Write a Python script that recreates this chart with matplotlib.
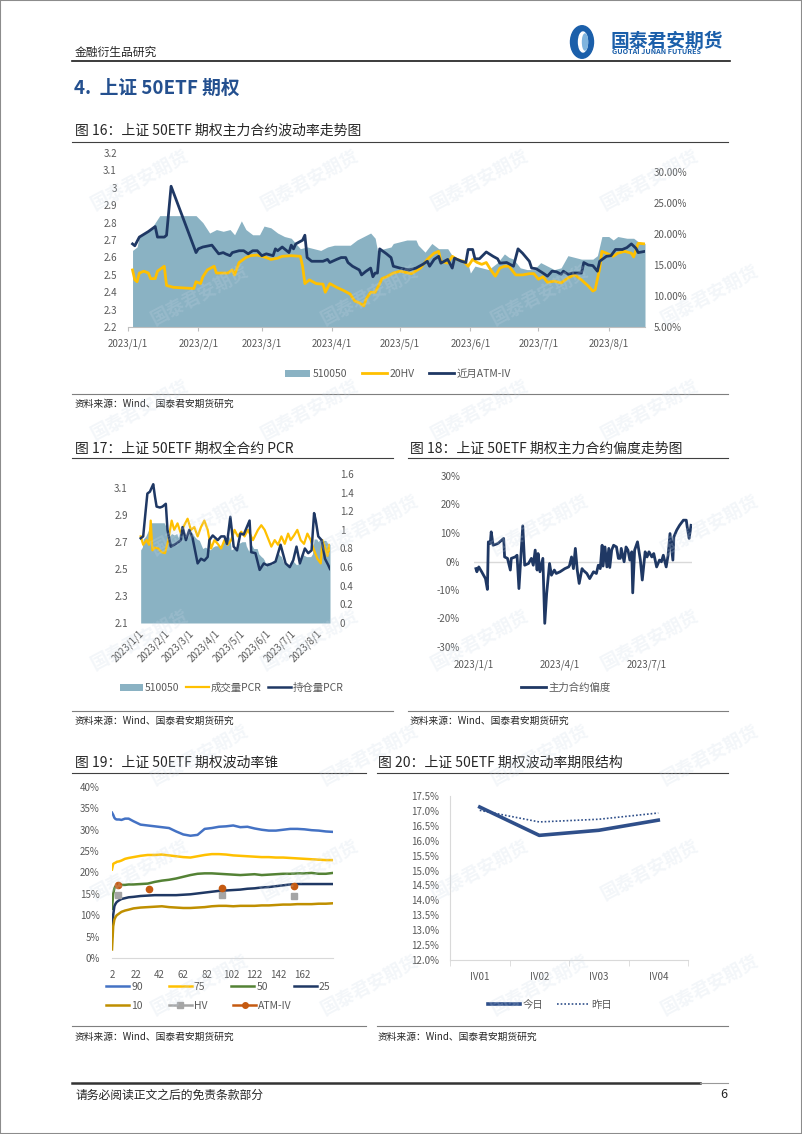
import numpy as np
import matplotlib
matplotlib.use('Agg')
import matplotlib.pyplot as plt
from matplotlib.lines import Line2D
from matplotlib.patches import Rectangle, Ellipse, Circle

plt.rcParams['font.family'] = ['Noto Sans CJK SC', 'DejaVu Sans']
plt.rcParams['axes.unicode_minus'] = False

# ---------------- data ----------------
# fig 16: days since 2023-01-01
etf_days = [2, 4, 5, 8, 11, 14, 17, 30, 33, 36, 39, 42, 45, 47, 50, 52, 55, 58, 60, 63, 66, 69, 72, 76, 79,
            82, 85, 88, 91, 95, 98, 101, 104, 107, 109, 110, 113, 116, 117, 120, 123, 127, 128, 131, 134,
            137, 141, 143, 146, 148, 150, 151, 153, 156, 159, 163, 166, 168, 170, 173, 176, 179, 182, 185,
            188, 191, 194, 197, 200, 203, 205, 207, 209, 212, 214, 216, 220, 223, 225, 228]
etf_close = [2.64, 2.66, 2.72, 2.74, 2.78, 2.84, 2.84, 2.84, 2.80, 2.74, 2.76, 2.75, 2.76, 2.73, 2.81, 2.76,
             2.73, 2.73, 2.78, 2.77, 2.74, 2.72, 2.71, 2.65, 2.66, 2.65, 2.64, 2.66, 2.67, 2.67, 2.67, 2.70,
             2.72, 2.74, 2.71, 2.64, 2.65, 2.66, 2.68, 2.69, 2.70, 2.70, 2.67, 2.63, 2.68, 2.65, 2.65, 2.61,
             2.59, 2.58, 2.56, 2.51, 2.55, 2.54, 2.53, 2.57, 2.62, 2.60, 2.59, 2.54, 2.53, 2.53, 2.57, 2.55,
             2.53, 2.54, 2.61, 2.60, 2.59, 2.59, 2.59, 2.61, 2.72, 2.72, 2.70, 2.72, 2.71, 2.71, 2.69, 2.68]

hv_days = [2, 3, 4, 5, 7, 9, 10, 12, 13, 16, 17, 20, 29, 30, 32, 33, 35, 38, 39, 42, 44, 46, 47, 49, 52, 54,
           57, 59, 61, 63, 66, 68, 72, 76, 77, 78, 80, 83, 86, 87, 89, 92, 95, 98, 100, 102, 104, 105, 107,
           109, 111, 112, 114, 117, 120, 125, 129, 132, 135, 137, 138, 141, 143, 145, 148, 150, 152, 154,
           156, 158, 160, 162, 164, 166, 168, 171, 174, 177, 179, 181, 183, 185, 188, 191, 194, 197, 200,
           203, 205, 206, 208, 209, 211, 214, 216, 219, 222, 223, 225, 228]
hv20 = [14.2, 12.6, 12.3, 13.7, 14.0, 13.7, 12.8, 12.8, 14.0, 14.8, 11.7, 11.4, 11.2, 12.3, 12.0, 13.1, 14.2,
        14.8, 13.7, 13.7, 13.7, 14.2, 13.4, 15.4, 16.2, 16.5, 16.6, 16.4, 16.2, 15.9, 16.1, 16.4, 16.5, 16.4,
        14.8, 12.0, 12.6, 12.0, 11.9, 10.6, 12.0, 11.4, 10.9, 10.3, 9.2, 8.9, 8.4, 9.5, 10.6, 10.6, 12.0,
        12.8, 13.1, 13.7, 14.0, 13.6, 14.5, 15.9, 16.9, 17.2, 15.6, 15.3, 16.4, 15.9, 15.6, 14.8, 15.9, 15.4,
        15.1, 15.4, 14.2, 13.2, 14.5, 14.8, 14.8, 13.4, 13.4, 13.6, 13.6, 12.7, 13.1, 12.2, 12.4, 12.1, 12.9,
        13.4, 12.6, 11.6, 10.8, 11.0, 14.4, 17.2, 16.9, 16.4, 16.9, 17.2, 16.9, 16.3, 18.5, 18.4]

iv_days = [2, 3, 5, 9, 12, 13, 16, 17, 19, 30, 31, 33, 37, 40, 42, 43, 45, 46, 49, 51, 53, 55, 57, 59, 61,
           64, 65, 66, 68, 71, 72, 73, 74, 77, 78, 79, 81, 86, 88, 89, 92, 94, 96, 97, 99, 102, 103, 105,
           107, 108, 109, 110, 111, 114, 116, 117, 120, 124, 127, 130, 132, 133, 135, 137, 138, 141, 143,
           144, 147, 149, 150, 152, 153, 155, 158, 161, 163, 164, 167, 170, 172, 174, 177, 178, 180, 183,
           185, 187, 189, 191, 192, 194, 196, 200, 201, 203, 205, 207, 208, 211, 213, 215, 218, 220, 222,
           224, 225, 228]
atm_iv = [18.4, 18.1, 19.5, 20.4, 21.2, 19.5, 19.5, 19.8, 27.7, 17.0, 17.6, 17.9, 18.2, 16.8, 17.0, 16.8,
          16.5, 17.0, 17.3, 17.3, 16.8, 17.3, 17.3, 16.5, 16.8, 16.5, 17.6, 17.3, 17.9, 17.0, 18.2, 17.6,
          18.4, 19.0, 19.8, 16.2, 15.6, 15.6, 15.9, 15.4, 15.9, 16.2, 16.2, 15.4, 14.8, 14.2, 13.4, 14.0,
          14.5, 13.1, 13.7, 13.7, 17.6, 16.8, 16.2, 14.8, 14.5, 14.2, 14.5, 15.1, 15.6, 14.8, 15.9, 16.4,
          15.3, 15.9, 14.5, 16.1, 15.6, 15.4, 17.5, 17.5, 16.0, 16.0, 17.1, 16.4, 16.0, 15.3, 15.4, 14.8,
          17.6, 16.9, 15.6, 14.5, 14.4, 13.7, 13.2, 14.0, 13.9, 13.5, 14.0, 13.5, 13.7, 13.7, 15.4, 15.0,
          14.9, 14.0, 15.6, 16.4, 16.5, 17.5, 17.5, 17.8, 18.4, 17.7, 17.0, 17.2]

# fig 17: PCR
oi_days = [2, 5, 8, 10, 13, 15, 17, 19, 21, 25, 28, 32, 34, 38, 44, 50, 52, 56, 60, 64, 70, 74, 78, 82, 84,
           88, 94, 98, 102, 105, 109, 113, 117, 121, 125, 132, 134, 139, 144, 149, 153, 159, 163, 169, 175,
           180, 184, 188, 192, 198, 202, 206, 209, 211, 214, 218, 222, 226, 228]
oi_pcr = [0.91, 0.93, 1.21, 1.39, 1.41, 1.45, 1.49, 1.36, 1.25, 1.24, 1.25, 1.28, 1.00, 0.82, 0.85, 0.89,
          1.03, 0.89, 1.00, 0.91, 0.64, 0.69, 0.67, 0.71, 0.89, 0.94, 0.89, 0.93, 0.93, 0.85, 1.14, 0.82,
          0.78, 0.96, 0.95, 1.10, 0.76, 0.75, 0.57, 0.64, 0.62, 0.64, 0.66, 0.84, 0.64, 0.60, 0.67, 0.82,
          0.64, 0.80, 0.75, 0.78, 1.18, 1.10, 0.93, 0.89, 0.69, 0.62, 0.58]
vol_days = [2, 5, 9, 12, 14, 16, 19, 23, 27, 31, 35, 39, 42, 46, 50, 54, 58, 62, 66, 70, 74, 78, 82, 86, 90,
            94, 98, 102, 106, 110, 114, 118, 122, 126, 130, 136, 142, 146, 150, 154, 158, 162, 166, 170,
            174, 178, 181, 185, 189, 193, 197, 201, 205, 209, 213, 217, 219, 223, 225, 227, 228]
vol_pcr = [0.93, 0.84, 0.89, 0.84, 1.10, 0.78, 0.81, 0.80, 0.76, 0.75, 0.89, 1.10, 1.00, 1.07, 0.96, 1.05,
           1.12, 1.00, 1.03, 0.93, 1.03, 1.10, 1.00, 0.80, 0.89, 0.85, 0.80, 0.89, 0.84, 0.89, 1.00, 0.93,
           0.98, 0.93, 1.00, 0.89, 1.00, 1.05, 1.00, 0.91, 0.82, 0.89, 0.84, 0.93, 0.85, 0.96, 0.89, 0.94,
           1.00, 0.89, 0.85, 0.96, 0.89, 0.78, 0.69, 0.64, 0.89, 0.78, 0.72, 0.84, 0.78]

# fig 18: skew (%)
skew_days = [2, 3, 5, 8, 12, 14, 15, 17, 18, 20, 25, 31, 32, 35, 38, 39, 43, 45, 47, 51, 53, 57, 60, 62, 64,
             66, 67, 69, 72, 74, 76, 79, 81, 84, 86, 90, 95, 99, 100, 102, 104, 106, 108, 110, 113, 114, 118,
             121, 125, 128, 130, 132, 134, 135, 137, 139, 141, 142, 144, 146, 149, 151, 153, 154, 157, 159,
             161, 163, 165, 166, 168, 171, 174, 176, 179, 181, 183, 186, 188, 191, 194, 196, 198, 201, 203,
             205, 208, 209, 212, 215, 219, 222, 223, 225, 227]
skew = [-2.5, -3.6, -1.9, -3.6, -6.0, -9.8, 6.9, 6.3, 10.4, 5.7, 6.3, 8.1, 1.6, 1.1, -3.0, 1.1, 1.6, 2.2,
        -9.5, 12.5, -1.3, -0.7, 1.1, -1.3, 4.0, -3.0, 2.8, -3.6, 1.1, -21.7, -11.2, -0.7, -4.8, -3.0, -4.2,
        -3.6, -2.5, -1.9, -1.3, 1.6, -2.5, 4.6, -3.0, -7.7, -2.5, -3.0, -4.2, -6.0, -3.6, -4.2, -1.3, -2.5,
        5.7, -1.6, 5.1, -1.9, 4.6, -2.1, 4.0, 5.7, 5.1, 1.1, 1.1, 4.6, -0.1, 5.1, 4.0, 0.5, 3.4, -11.0, 4.0,
        6.9, 0.5, -6.5, 3.4, 1.6, 3.4, 1.6, 2.8, -1.9, 0.5, -0.1, 2.2, -1.9, 2.2, 9.8, 0.5, 8.6, 11.0, 12.7,
        14.5, 14.5, 12.1, 8.1, 12.7]

# fig 19: volatility cone (%), x = days to expiry
cone_x = [2, 3, 4, 5, 6, 8, 10, 13, 16, 20, 26, 32, 38, 44, 50, 56, 62, 68, 74, 80, 86, 92, 98, 104, 110,
          116, 122, 128, 134, 140, 146, 152, 158, 164, 170, 176, 182, 188]
cone_90 = [34.0, 33.5, 32.8, 32.5, 32.4, 32.4, 32.3, 32.6, 32.6, 32.0, 31.2, 31.0, 30.8, 30.6, 30.4, 29.6,
           28.9, 28.6, 28.8, 30.2, 30.4, 30.7, 30.8, 31.0, 30.6, 30.7, 30.3, 30.0, 29.8, 29.8, 30.0, 30.2,
           30.2, 30.1, 29.9, 29.8, 29.6, 29.5]
cone_75 = [20.7, 22.0, 22.2, 22.3, 22.5, 22.6, 22.8, 23.2, 23.4, 23.6, 23.9, 24.1, 24.1, 24.2, 24.0, 23.8,
           23.6, 23.5, 23.8, 24.1, 24.3, 24.3, 24.2, 24.0, 23.9, 23.8, 23.7, 23.6, 23.6, 23.5, 23.5, 23.4,
           23.3, 23.2, 23.1, 23.0, 22.9, 22.9]
cone_50 = [11.5, 15.0, 16.3, 16.8, 17.0, 17.0, 17.1, 17.1, 17.2, 17.2, 17.3, 17.4, 17.8, 18.1, 18.3, 18.6,
           19.0, 19.4, 19.7, 19.8, 19.8, 19.7, 19.6, 19.5, 19.4, 19.5, 19.6, 19.4, 19.5, 19.6, 19.7, 19.7,
           19.8, 19.8, 19.9, 19.7, 19.7, 19.9]
cone_25 = [5.1, 10.1, 12.1, 12.7, 13.1, 13.5, 13.8, 14.0, 14.2, 14.3, 14.5, 14.6, 14.7, 14.7, 14.7, 14.7,
           14.8, 14.9, 15.1, 15.3, 15.5, 15.7, 15.8, 15.9, 16.0, 16.2, 16.3, 16.5, 16.6, 16.8, 17.0, 17.2,
           17.3, 17.3, 17.3, 17.3, 17.3, 17.3]
cone_10 = [2.0, 7.4, 9.0, 9.6, 10.0, 10.4, 10.8, 11.1, 11.3, 11.6, 11.8, 11.9, 12.0, 12.1, 11.9, 11.8,
           11.7, 11.7, 11.8, 11.9, 12.1, 12.2, 12.2, 12.1, 12.2, 12.2, 12.2, 12.3, 12.3, 12.4, 12.5, 12.5,
           12.6, 12.6, 12.6, 12.7, 12.7, 12.8]
hv_x = [7, 95, 155]
hv_pts = [14.7, 14.7, 14.4]
atm_x = [7, 33, 95, 155]
atm_pts = [17.1, 16.1, 16.4, 16.8]

# fig 20: term structure (%)
terms = ['IV01', 'IV02', 'IV03', 'IV04']
iv_today = [17.13, 16.18, 16.35, 16.69]
iv_yest = [17.02, 16.63, 16.72, 16.93]

# ---------------- style ----------------
NAVY = '#1F3864'
YELLOW = '#FFC000'
AREA = '#8AB2C3'
TICK = '#595959'
GRID = '#D9D9D9'
BLUE_HEAD = '#24508F'

W, H = 802, 1134
fig = plt.figure(figsize=(W / 100, H / 100), dpi=100)


def fx(x):
    return x / W


def fy(y):
    return 1 - y / H


def hline(x0, x1, y, color='#404040', lw=0.8):
    fig.add_artist(Line2D([fx(x0), fx(x1)], [fy(y), fy(y)], color=color, lw=lw))


def px_axes(x0, y0, x1, y1):
    return fig.add_axes([fx(x0), fy(y1), (x1 - x0) / W, (y1 - y0) / H])


def text(x, y, s, **kw):
    kw.setdefault('va', 'center')
    fig.text(fx(x), fy(y), s, **kw)


def clean(ax):
    for s in ax.spines.values():
        s.set_visible(False)
    ax.tick_params(length=0, labelsize=7, colors=TICK)
    ax.set_facecolor('none')


base = np.datetime64('2023-01-01')


def dates(days):
    return base + np.array(days).astype('timedelta64[D]')


months = [base + np.timedelta64(0, 'D')] + [np.datetime64('2023-%02d-01' % m) for m in range(2, 9)]
month_lbl = ['2023/%d/1' % m for m in range(1, 9)]

# ---------------- page ----------------
text(75, 52, '金融衍生品研究', fontsize=8.5, color='#262626')
fig.add_artist(Circle((fx(582), fy(42)), 11.5 / W, color='#1B5FAA', transform=fig.transFigure))
fig.add_artist(Ellipse((fx(583), fy(42)), 9 / W, 20 / H, color='white', transform=fig.transFigure))
fig.add_artist(Ellipse((fx(585), fy(42)), 5 / W, 16 / H, color='#7FB4DE', transform=fig.transFigure))
text(611, 41, '国泰君安期货', fontsize=13.5, color='#1B5FAA', weight='bold')
text(612, 52, 'GUOTAI JUNAN FUTURES', fontsize=5.2, color='#1B5FAA', weight='bold')
hline(72, 730, 61, color='#1a1a1a', lw=1.2)
text(74, 88, '4.  上证 50ETF 期权', fontsize=13.5, color=BLUE_HEAD, weight='bold')

# ---------------- fig 16 ----------------
text(75, 131, '图 16：上证 50ETF 期权主力合约波动率走势图', fontsize=10, color='#262626')
hline(72, 728, 142)
hline(72, 728, 394, color='#7f7f7f')
text(75, 404, '资料来源：Wind、国泰君安期货研究', fontsize=7, color='#262626')

ax = px_axes(128, 153, 645, 327)
area16 = ax.fill_between(dates(etf_days), etf_close, 2.2, color=AREA, lw=0, label='510050')
ax.set_ylim(2.2, 3.2)
ax.set_xlim(base, base + np.timedelta64(228, 'D'))
clean(ax)
ax.spines['bottom'].set_visible(True)
ax.spines['bottom'].set_color('#BFBFBF')
ax.set_yticks(np.arange(2.2, 3.21, 0.1))
ax.set_yticklabels(['%g' % round(v, 1) for v in np.arange(2.2, 3.21, 0.1)])
ax.tick_params(axis='y', pad=8)
ax.set_xticks(months)
ax.set_xticklabels(month_lbl)
ax.tick_params(axis='x', length=3, color='#BFBFBF', pad=5)
ax2 = ax.twinx()
clean(ax2)
l_hv, = ax2.plot(dates(hv_days), np.array(hv20) / 100, color=YELLOW, lw=2.0, label='20HV')
l_iv, = ax2.plot(dates(iv_days), np.array(atm_iv) / 100, color=NAVY, lw=2.0, label='近月ATM-IV')
ax2.set_ylim(0.05, 0.3306)
ax2.set_yticks(np.arange(0.05, 0.301, 0.05))
ax2.set_yticklabels(['%.2f%%' % (v * 100) for v in np.arange(0.05, 0.301, 0.05)])
ax2.tick_params(axis='y', pad=6)
ax.legend([area16, l_hv, l_iv], ['510050', '20HV', '近月ATM-IV'], loc='center', ncol=3,
          bbox_to_anchor=(fx(398), fy(374)), bbox_transform=fig.transFigure, frameon=False,
          fontsize=7.5, handlelength=2.4, handletextpad=0.25, columnspacing=1.4, labelcolor=TICK)

# ---------------- fig 17 ----------------
text(75, 449, '图 17：上证 50ETF 期权全合约 PCR', fontsize=10, color='#262626')
hline(72, 393, 458)
hline(72, 393, 711, color='#7f7f7f')
text(75, 721, '资料来源：Wind、国泰君安期货研究', fontsize=7, color='#262626')

ax = px_axes(139, 474, 330, 623)
area17 = ax.fill_between(dates(etf_days), etf_close, 2.1, color=AREA, lw=0)
ax.set_ylim(2.1, 3.2)
ax.set_xlim(base + np.timedelta64(2, 'D'), base + np.timedelta64(228, 'D'))
clean(ax)
ax.set_yticks([2.1, 2.3, 2.5, 2.7, 2.9, 3.1])
ax.set_yticklabels(['2.1', '2.3', '2.5', '2.7', '2.9', '3.1'])
ax.tick_params(axis='y', pad=8)
ax.set_xticks(months)
ax.set_xticklabels(month_lbl, rotation=45, ha='right', rotation_mode='anchor')
ax.tick_params(axis='x', pad=4)
ax2 = ax.twinx()
clean(ax2)
l_vol, = ax2.plot(dates(vol_days), vol_pcr, color=YELLOW, lw=1.6)
l_oi, = ax2.plot(dates(oi_days), oi_pcr, color=NAVY, lw=1.8)
ax2.set_ylim(0, 1.6)
ax2.set_yticks(np.arange(0, 1.61, 0.2))
ax2.set_yticklabels(['%g' % round(v, 1) for v in np.arange(0, 1.61, 0.2)])
ax2.tick_params(axis='y', pad=7)
ax.legend([area17, l_vol, l_oi], ['510050', '成交量PCR', '持仓量PCR'], loc='center', ncol=3,
          bbox_to_anchor=(fx(232), fy(688)), bbox_transform=fig.transFigure, frameon=False,
          fontsize=7.5, handlelength=2.2, handletextpad=0.2, columnspacing=0.6, labelcolor=TICK)

# ---------------- fig 18 ----------------
text(410, 449, '图 18：上证 50ETF 期权主力合约偏度走势图', fontsize=10, color='#262626')
hline(408, 728, 458)
hline(408, 728, 711, color='#7f7f7f')
text(410, 721, '资料来源：Wind、国泰君安期货研究', fontsize=7, color='#262626')

ax = px_axes(474, 476, 692, 647)
ax.axhline(0, color=GRID, lw=1)
l_sk, = ax.plot(dates(skew_days), np.array(skew) / 100, color=NAVY, lw=2.0)
ax.set_ylim(-0.30, 0.30)
ax.set_xlim(base, base + np.timedelta64(228, 'D'))
clean(ax)
ax.set_yticks(np.arange(-0.3, 0.301, 0.1))
ax.set_yticklabels(['%d%%' % round(v * 100) for v in np.arange(-0.3, 0.301, 0.1)])
ax.tick_params(axis='y', pad=10)
ax.set_xticks([base, np.datetime64('2023-04-01'), np.datetime64('2023-07-01')])
ax.set_xticklabels(['2023/1/1', '2023/4/1', '2023/7/1'])
ax.tick_params(axis='x', pad=9)
ax.legend([l_sk], ['主力合约偏度'], loc='center', bbox_to_anchor=(fx(566), fy(688)),
          bbox_transform=fig.transFigure, frameon=False, fontsize=7.5, handlelength=2.4,
          handletextpad=0.2, labelcolor=TICK)

# ---------------- fig 19 ----------------
text(75, 763, '图 19：上证 50ETF 期权波动率锥', fontsize=10, color='#262626')
hline(72, 366, 773)
hline(72, 366, 1026, color='#7f7f7f')
text(75, 1037, '资料来源：Wind、国泰君安期货研究', fontsize=7, color='#262626')

ax = px_axes(112, 787, 333, 958)
c90, = ax.plot(cone_x, np.array(cone_90) / 100, color='#4472C4', lw=1.8)
c75, = ax.plot(cone_x, np.array(cone_75) / 100, color=YELLOW, lw=1.8)
c50, = ax.plot(cone_x, np.array(cone_50) / 100, color='#548235', lw=1.8)
c25, = ax.plot(cone_x, np.array(cone_25) / 100, color=NAVY, lw=1.8)
c10, = ax.plot(cone_x, np.array(cone_10) / 100, color='#BF8F00', lw=1.8)
ax.plot(hv_x, np.array(hv_pts) / 100, ls='none', marker='s', ms=4.5, color='#A5A5A5')
ax.plot(atm_x, np.array(atm_pts) / 100, ls='none', marker='o', ms=4.5, color='#C55A11')
ax.set_xlim(2, 188)
ax.set_ylim(0, 0.40)
clean(ax)
ax.spines['bottom'].set_visible(True)
ax.spines['bottom'].set_color(GRID)
ax.set_yticks(np.arange(0, 0.401, 0.05))
ax.set_yticklabels(['%d%%' % round(v * 100) for v in np.arange(0, 0.401, 0.05)])
ax.tick_params(axis='y', pad=9)
ax.set_xticks(range(2, 163, 20))
ax.tick_params(axis='x', pad=9)
h_hv = Line2D([], [], color='#A5A5A5', lw=1.8, marker='s', ms=4)
h_atm = Line2D([], [], color='#C55A11', lw=1.8, marker='o', ms=4)
leg_kw = dict(loc='center left', bbox_transform=fig.transFigure, frameon=False, fontsize=7.5,
              handlelength=2.2, handletextpad=0.2, columnspacing=2.5, borderpad=0, labelcolor=TICK)
lg1 = ax.legend([c90, c75, c50, c25], ['90', '75', '50', '25'], ncol=4,
                bbox_to_anchor=(fx(101), fy(987)), **leg_kw)
ax.add_artist(lg1)
ax.legend([c10, h_hv, h_atm], ['10', 'HV', 'ATM-IV'], ncol=3,
          bbox_to_anchor=(fx(101), fy(1006)), **leg_kw)

# ---------------- fig 20 ----------------
text(378, 763, '图 20：上证 50ETF 期权波动率期限结构', fontsize=10, color='#262626')
hline(377, 728, 773)
hline(377, 728, 1026, color='#7f7f7f')
text(378, 1037, '资料来源：Wind、国泰君安期货研究', fontsize=7, color='#262626')

ax = px_axes(450, 796, 688, 960)
xi = np.arange(len(terms))
t1, = ax.plot(xi, np.array(iv_today) / 100, color='#2F4F8A', lw=2.6)
t2, = ax.plot(xi, np.array(iv_yest) / 100, color='#2F4F8A', lw=1.2, ls=(0, (1, 1.2)))
ax.set_xlim(-0.5, 3.5)
ax.set_ylim(0.12, 0.175)
clean(ax)
for s in ('left', 'bottom'):
    ax.spines[s].set_visible(True)
    ax.spines[s].set_color(GRID)
ax.set_yticks(np.arange(0.12, 0.1751, 0.005))
ax.set_yticklabels(['%.1f%%' % (v * 100) for v in np.arange(0.12, 0.1751, 0.005)])
ax.tick_params(axis='y', pad=8)
ax.set_xticks(xi)
ax.set_xticklabels(terms)
ax.set_xticks(np.arange(-0.5, 3.6, 1), minor=True)
ax.tick_params(axis='x', which='minor', length=4, color=GRID)
ax.tick_params(axis='x', which='major', pad=9)
ax.legend([t1, t2], ['今日', '昨日'], loc='center', ncol=2, bbox_to_anchor=(fx(550), fy(1005)),
          bbox_transform=fig.transFigure, frameon=False, fontsize=7.5, handlelength=3.1,
          handletextpad=0.2, columnspacing=1.3, labelcolor=TICK)

# ---------------- footer, watermark, border ----------------
hline(72, 700, 1083, color='#333333', lw=1.8)
hline(700, 728, 1083, color='#999999', lw=0.8)
text(75, 1095, '请务必阅读正文之后的免责条款部分', fontsize=8.5, color='#262626')
text(727, 1095, '6', fontsize=9, color='#262626', ha='right')

# faint repeated watermark, kept inside the page
for row in range(8):
    for col in range(4):
        wx = 140 + col * 170 + (row % 2) * 60
        wy = 180 + row * 115
        fig.text(fx(wx), fy(wy), '国泰君安期货', rotation=28, fontsize=13, weight='bold',
                 color='#C8D7E6', alpha=0.22, ha='center', va='center', zorder=20)

fig.add_artist(Rectangle((0, 0), 1, 1, fill=False, ec='#8c8c8c', lw=1.5, transform=fig.transFigure))

fig.savefig('out.png', dpi=100)
